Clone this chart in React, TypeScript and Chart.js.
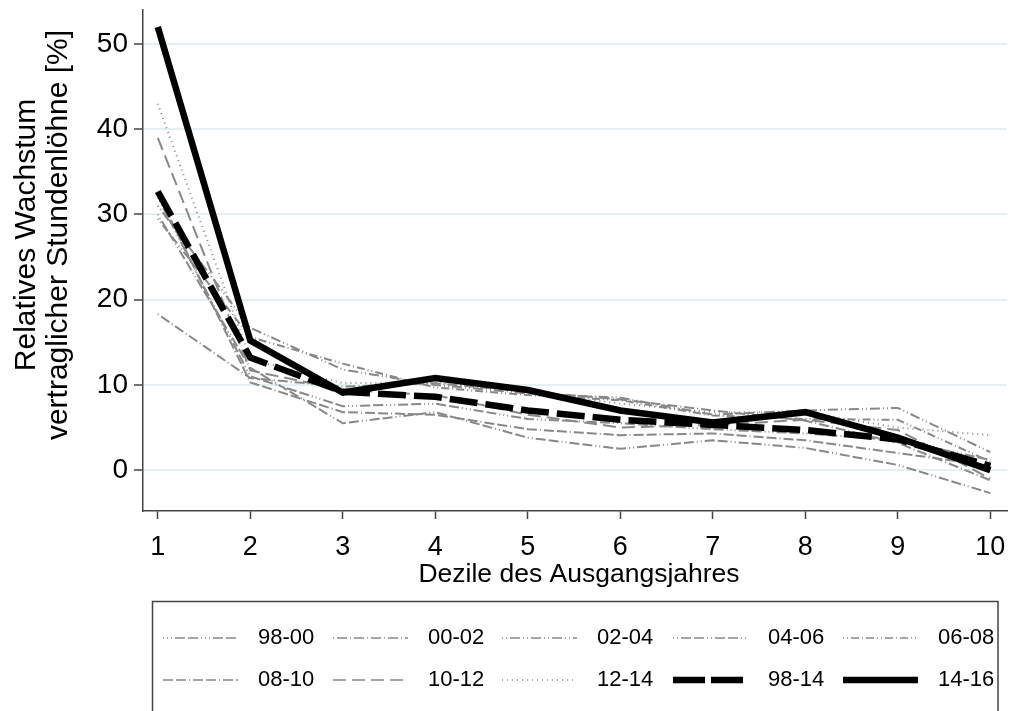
import React, { useEffect, useRef } from 'react';
import { Chart, registerables } from 'chart.js';

Chart.register(...registerables);

const deciles = [1, 2, 3, 4, 5, 6, 7, 8, 9, 10];
const yTickValues = [0, 10, 20, 30, 40, 50];
const seriesLabels = ['98-00', '00-02', '02-04', '04-06', '06-08', '08-10', '10-12', '12-14', '98-14', '14-16'];

const s9800 = [32, 11.0, 7.5, 7.8, 6.0, 5.5, 4.8, 4.3, 3.5, 1.2];
const s0002 = [18.3, 10.8, 9.8, 10.2, 9.2, 8.3, 7.0, 5.8, 3.2, -1.2];
const s0204 = [31, 16.7, 11.8, 10.0, 9.0, 8.5, 6.5, 7.0, 7.3, 2.1];
const s0406 = [30, 12.0, 5.5, 6.8, 3.8, 2.5, 3.5, 2.6, 0.6, -2.7];
const s0608 = [29.5, 15.6, 12.5, 9.7, 8.8, 8.2, 6.4, 6.0, 5.9, 1.0];
const s0810 = [32.5, 10.3, 6.8, 6.5, 4.8, 4.1, 4.3, 3.5, 2.0, 0.5];
const s1012 = [39, 11.7, 9.4, 8.8, 6.5, 5.0, 5.3, 5.9, 4.7, -1.0];
const s1214 = [43, 13.0, 10.2, 10.3, 9.2, 7.8, 6.8, 6.8, 5.0, 4.1];
const s9814 = [32.7, 13.2, 9.2, 8.6, 7.0, 5.9, 5.3, 4.7, 3.6, 0.5];
const s1416 = [52.0, 15.2, 9.1, 10.8, 9.4, 7.0, 5.6, 6.8, 3.8, 0.0];

const seriesValues = [s9800, s0002, s0204, s0406, s0608, s0810, s1012, s1214, s9814, s1416];

const GREY = '#888888';
const FONT = '"Liberation Sans", Arial, Helvetica, sans-serif';

const dashes: number[][] = [
  [1, 3, 1, 3, 1, 3, 10, 3, 10, 3],
  [1, 3, 10, 3],
  [1, 3, 1, 3, 10, 3],
  [1, 3, 1, 3, 10, 3, 10, 3],
  [1, 3, 1, 3, 8, 3, 1, 3, 8, 3],
  [10, 3, 10, 3, 1, 3],
  [13, 6],
  [1, 4],
  [28, 8],
  [],
];

const legendPlugin = {
  id: 'customLegendAndTitles',
  afterDraw(chart: any) {
    const ctx = chart.ctx as CanvasRenderingContext2D;
    ctx.save();
    ctx.fillStyle = '#000';
    ctx.font = `30px ${FONT}`;
    ctx.textAlign = 'center';
    ctx.textBaseline = 'middle';
    ctx.save();
    ctx.translate(27, 235);
    ctx.rotate(-Math.PI / 2);
    ctx.fillText('Relatives Wachstum', 0, 0);
    ctx.restore();
    ctx.save();
    ctx.translate(59, 235);
    ctx.rotate(-Math.PI / 2);
    ctx.fillText('vertraglicher Stundenlöhne [%]', 0, 0);
    ctx.restore();
    ctx.font = `26.5px ${FONT}`;
    ctx.fillText('Dezile des Ausgangsjahres', 579, 575);

    ctx.strokeStyle = '#444';
    ctx.lineWidth = 1.5;
    ctx.strokeRect(152.5, 601.5, 845.5, 140);
    const colX = [163, 333, 502, 673, 843];
    const rowY = [638, 680];
    chart.data.datasets.forEach((d: any, i: number) => {
      const x0 = colX[i % 5];
      const y = rowY[Math.floor(i / 5)];
      const isBlack = d.borderColor === '#000';
      ctx.beginPath();
      ctx.setLineDash(i === 8 ? [32, 6] : d.borderDash || []);
      ctx.lineWidth = isBlack ? d.borderWidth : 1.6;
      ctx.strokeStyle = d.borderColor;
      ctx.lineCap = 'butt';
      ctx.moveTo(x0, y);
      ctx.lineTo(x0 + 75, y);
      ctx.stroke();
      ctx.setLineDash([]);
      ctx.fillStyle = '#000';
      ctx.font = `22px ${FONT}`;
      ctx.textAlign = 'left';
      ctx.textBaseline = 'middle';
      ctx.fillText(d.label, x0 + 95, y);
    });
    ctx.restore();
  },
};

export default function App() {
  const ref = useRef<HTMLCanvasElement | null>(null);
  useEffect(() => {
    if (!ref.current) return;
    const datasets = seriesValues.map((vals, i) => {
      const isBlack = i >= 8;
      return {
        label: seriesLabels[i],
        data: vals.map((v, j) => ({ x: deciles[j], y: v })),
        borderColor: isBlack ? '#000' : GREY,
        borderWidth: isBlack ? 6.5 : 2,
        borderDash: dashes[i],
        pointRadius: 0,
        fill: false,
        tension: 0,
        order: i === 9 ? 0 : i === 8 ? 1 : 2,
        borderJoinStyle: 'miter' as const,
      };
    });
    const chart = new Chart(ref.current, {
      type: 'line',
      data: { datasets },
      options: {
        responsive: false,
        animation: false,
        layout: { padding: { left: 0, top: 10, right: 3, bottom: 121 } },
        plugins: { legend: { display: false }, tooltip: { enabled: false } },
        scales: {
          x: {
            type: 'linear',
            min: 0.84,
            max: 10.18,
            afterBuildTicks: (axis: any) => {
              axis.ticks = deciles.map((v) => ({ value: v }));
            },
            afterFit: (s: any) => {
              s.height = 79;
              s.paddingLeft = 0;
              s.paddingRight = 0;
            },
            grid: { drawOnChartArea: false, drawTicks: true, tickLength: 8, tickColor: '#444', tickWidth: 1.5 },
            border: { display: true, color: '#444', width: 1.5 },
            ticks: { color: '#000', font: { family: FONT, size: 27 }, padding: 12, maxRotation: 0, autoSkip: false },
          },
          y: {
            type: 'linear',
            min: -4.8,
            max: 54,
            afterBuildTicks: (axis: any) => {
              axis.ticks = yTickValues.map((v) => ({ value: v }));
            },
            afterFit: (s: any) => {
              s.width = 143;
              s.paddingTop = 0;
              s.paddingBottom = 0;
            },
            grid: { color: '#e6eff1', lineWidth: 2, drawTicks: true, tickLength: 9, tickColor: '#444', tickWidth: 1.5 },
            border: { display: true, color: '#444', width: 1.5 },
            ticks: { color: '#000', font: { family: FONT, size: 28 }, padding: 6 },
          },
        },
      },
      plugins: [legendPlugin],
    });
    return () => chart.destroy();
  }, []);
  return (
    <div style={{ position: 'fixed', left: 0, top: 0, width: 1010, height: 711, background: '#fff' }}>
      <canvas ref={ref} width={1010} height={711} style={{ display: 'block' }} />
    </div>
  );
}
